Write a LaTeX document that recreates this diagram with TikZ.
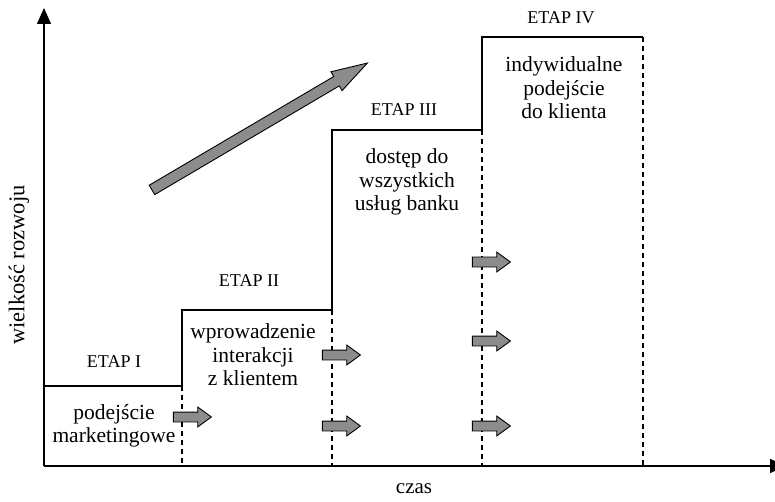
\documentclass[tikz,border=0pt]{standalone}
\usepackage{fontspec}
\setmainfont{Liberation Serif}
\usetikzlibrary{arrows.meta,shapes.arrows}
\definecolor{arrgray}{HTML}{8C8C8C}

\begin{document}
\begin{tikzpicture}[x=1pt, y=-1pt, line width=1.2pt,
  blockarrow/.style={single arrow, draw=black, fill=arrgray, line width=0.9pt,
    minimum height=38pt, minimum width=19pt, inner sep=4.5pt,
    single arrow head extend=5pt, single arrow tip angle=72},
  stage/.style={font=\fontsize{18}{20}\selectfont},
  desc/.style={font=\fontsize{21.5}{23.5}\selectfont, align=center},
  stepdash/.style={dash pattern=on 5pt off 4pt, line width=1.1pt}]
  \useasboundingbox (0,0) rectangle (775,502);

  % axes
  \coordinate (o) at (44,466);
  \coordinate (ytop) at (44,8);
  \coordinate (xend) at (786,466);
  \draw[-{Triangle[length=16pt,width=14pt]}, line width=1.3pt] (o) -- (ytop);
  \draw[-{Triangle[length=16pt,width=14pt]}, line width=1.3pt] (o) -- (xend);
  \node[font=\fontsize{21}{23}\selectfont] (czas) at (414,489) {czas};
  \node[font=\fontsize{22.5}{24}\selectfont, rotate=90] (wr) at (19,265)
    {wielkość rozwoju};

  % staircase of stages
  \draw (44,386) -- (182,386) -- (182,310) -- (332,310) -- (332,130)
    -- (482,130) -- (482,37) -- (643,37);
  \foreach \x/\y in {182/386, 332/310, 482/130, 643/37}
    \draw[stepdash] (\x,\y) -- (\x,466);

  % stage titles
  \foreach \i/\r/\x/\y in {1/I/114/362, 2/II/249/281, 3/III/404/110, 4/IV/561/18}
    \node[stage] (etap\i) at (\x,\y) {ETAP \r};

  % stage descriptions
  \node[desc] (d1) at (114,426) {podejście\\marketingowe};
  \node[desc] (d2) at (253,355) {wprowadzenie\\interakcji\\z klientem};
  \node[desc] (d3) at (407,182) {dostęp do\\wszystkich\\usług banku};
  \node[desc] (d4) at (564,88) {indywidualne\\podejście\\do klienta};

  % small arrows on the stage borders
  \foreach \n/\x/\y in {1/189/417, 2/338/355, 3/338/426, 4/488/262, 5/488/341, 6/488/426}
    \node[blockarrow] (ar\n) at (\x,\y) {};

  % big growth arrow
  \node[blockarrow, rotate=30.5, minimum height=250pt, minimum width=21pt,
    inner sep=5pt, single arrow head extend=5.5pt, single arrow tip angle=34]
    (growth) at (252,131) {};
\end{tikzpicture}
\end{document}
